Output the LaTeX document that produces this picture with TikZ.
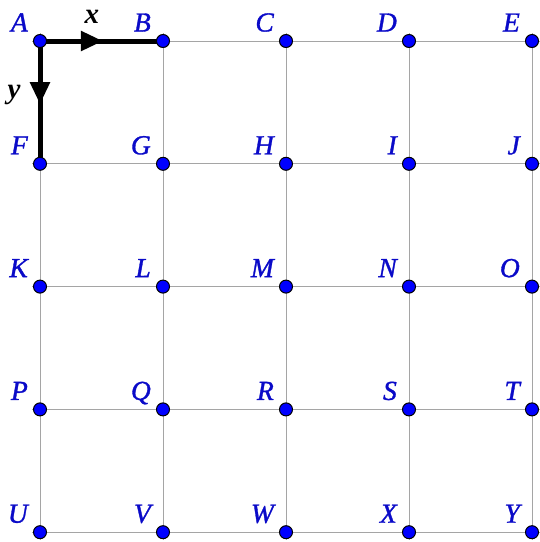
\documentclass[tikz,border=0pt]{standalone}
\usepackage{fontspec}
\setmainfont{Liberation Serif}
\newfontface\lblfont{Liberation Serif Italic}[FakeBold=1.2]
\usetikzlibrary{arrows.meta,calc}
\definecolor{lblblue}{RGB}{10,10,200}
\definecolor{gridgray}{RGB}{165,165,165}
\definecolor{dotblue}{RGB}{0,0,255}
\begin{document}
\begin{tikzpicture}[x=1pt,y=-1pt,
  gridline/.style={draw=gridgray, line width=1pt, shorten <=-8pt, shorten >=-8pt},
  dot/.style={circle, fill=dotblue, draw=black, line width=1pt, minimum size=13pt, inner sep=0pt},
  lbl/.style={anchor=base east, inner sep=0pt, text=lblblue, font=\fontsize{27.5}{27.5}\selectfont\lblfont},
  axislbl/.style={inner sep=0pt, text=black, font=\fontsize{29}{29}\selectfont\bfseries\itshape},
  axis/.style={line width=5pt, draw=black}]
\useasboundingbox (0,0) rectangle (540,542);
% grid coordinates
\foreach \n [count=\i from 0] in {A,B,C,D,E,F,G,H,I,J,K,L,M,N,O,P,Q,R,S,T,U,V,W,X,Y} {
  \pgfmathtruncatemacro{\col}{mod(\i,5)}
  \pgfmathtruncatemacro{\row}{div(\i,5)}
  \coordinate (c\n) at ({40+123*\col},{41+122.8*\row});
}
% grid lines
\draw[gridline] (cA) -- (cE);
\draw[gridline] (cF) -- (cJ);
\draw[gridline] (cK) -- (cO);
\draw[gridline] (cP) -- (cT);
\draw[gridline] (cU) -- (cY);
\draw[gridline] (cA) -- (cU);
\draw[gridline] (cB) -- (cV);
\draw[gridline] (cC) -- (cW);
\draw[gridline] (cD) -- (cX);
\draw[gridline] (cE) -- (cY);
% axes
\coordinate (tipx) at ($(cA)!0.512!(cB)$);
\coordinate (tipy) at ($(cA)!0.515!(cF)$);
\draw[axis] (cA) -- (cB);
\draw[axis] (cA) -- (cF);
\draw[axis, -{Triangle[length=22pt,width=19pt]}] (cA) -- (tipx);
\draw[axis, -{Triangle[length=22pt,width=19pt]}] (cA) -- (tipy);
\node[axislbl] (lx) at (92,17) {x};
\node[axislbl] (ly) at (14,95) {y};
% dots and labels
\foreach \n in {A,B,C,D,E,F,G,H,I,J,K,L,M,N,O,P,Q,R,S,T,U,V,W,X,Y} {
  \node[dot] (\n) at (c\n) {};
  \node[lbl] (l\n) at ([shift={(-12,-9.5)}]c\n) {\n};
}
\end{tikzpicture}
\end{document}
